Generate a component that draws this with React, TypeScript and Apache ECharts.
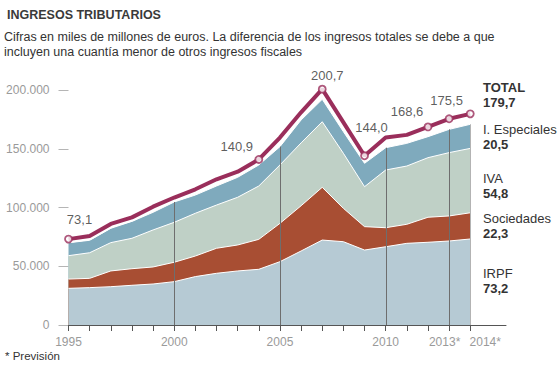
import React, { useEffect, useRef } from "react";
import * as echarts from "echarts";

// Data (miles de millones de euros)
const years = [1995, 1996, 1997, 1998, 1999, 2000, 2001, 2002, 2003, 2004, 2005, 2006, 2007, 2008, 2009, 2010, 2011, 2012, 2013, 2014];
const irpf = [31.2, 31.8, 32.6, 33.8, 34.9, 36.9, 41.2, 44.0, 46.0, 47.4, 53.9, 63.0, 72.3, 70.9, 63.8, 66.6, 69.5, 70.4, 71.5, 73.2];
const sociedades = [7.9, 7.9, 13.4, 14.1, 14.5, 16.5, 17.5, 21.3, 22.1, 25.5, 32.6, 38.5, 44.9, 28.4, 19.9, 16.2, 16.2, 21.3, 21.3, 22.3];
const iva = [19.9, 21.8, 24.1, 25.9, 31.5, 34.0, 36.4, 36.8, 40.6, 45.4, 49.7, 53.5, 55.8, 46.8, 34.0, 49.1, 49.6, 50.7, 53.9, 54.8];
const especiales = [11.0, 10.6, 12.2, 14.4, 15.0, 17.3, 15.5, 16.2, 17.0, 17.9, 15.6, 19.5, 19.1, 18.4, 19.9, 19.0, 19.3, 17.9, 19.8, 20.5];
const total = [73.1, 75.8, 86.0, 91.6, 100.7, 108.5, 115.5, 124.0, 130.5, 140.9, 159.5, 181.0, 200.7, 172.5, 144.0, 159.5, 161.8, 168.6, 175.5, 179.7];

const markerYears = [1995, 2004, 2007, 2009, 2012, 2013, 2014];
const labeledYears = [1995, 2004, 2007, 2009, 2012, 2013];
const xLabelYears = [1995, 2000, 2005, 2010, 2013, 2014];
const forecastYears = [2013, 2014];
const guideYears = [2000, 2005, 2010, 2013, 2014];
const yMin = 0;
const yMax = 200;
const yStep = 50;

const title = "INGRESOS TRIBUTARIOS";
const subtitle1 = "Cifras en miles de millones de euros. La diferencia de los ingresos totales se debe a que";
const subtitle2 = "incluyen una cuantía menor de otros ingresos fiscales";
const footnote = "* Previsión";

const FONT = "'Liberation Sans', Arial, sans-serif";
const COLORS = {
  irpf: "#b6cad4",
  sociedades: "#a84e33",
  iva: "#bfd0c6",
  especiales: "#7faabd",
  total: "#9a2e5b",
};

const fmt1 = (v: number) => v.toFixed(1).replace(".", ",");
const fmtThousands = (v: number) =>
  String(Math.round(v * 1000)).replace(/\B(?=(\d{3})+(?!\d))/g, ".");
const idx = (y: number) => years.indexOf(y);
const pairs = (arr: number[]) => years.map((y, i) => [y, arr[i]]);

// label offsets (style only)
const labelOffsets: Record<number, [number, number]> = {
  1995: [11, -4],
  2004: [-22, 3],
  2007: [5, 2],
  2009: [7, -12.5],
  2012: [-21, 0.5],
  2013: [-2.5, -2.5],
};

export default function App() {
  const ref = useRef<HTMLDivElement>(null);

  useEffect(() => {
    if (!ref.current) return;
    const chart = echarts.init(ref.current, null, { renderer: "svg" });
    const last = years.length - 1;

    const areaDefs = [
      { name: "IRPF", data: irpf, color: COLORS.irpf },
      { name: "Sociedades", data: sociedades, color: COLORS.sociedades },
      { name: "IVA", data: iva, color: COLORS.iva },
      { name: "I. Especiales", data: especiales, color: COLORS.especiales },
    ];
    // cumulative tops for stacking
    const cum: number[][] = [];
    areaDefs.forEach((s, k) => {
      cum.push(s.data.map((v, i) => (k > 0 ? cum[k - 1][i] : 0) + v));
    });
    const stackTop = cum[cum.length - 1];

    // draw top layer first, lower layers painted on top of it
    const areaSeries = areaDefs
      .map((s, k) => ({
        type: "line",
        name: s.name,
        data: pairs(cum[k]),
        symbol: "none",
        showSymbol: false,
        lineStyle: { color: "#ffffff", width: 1 },
        areaStyle: { color: s.color, opacity: 1 },
        itemStyle: { color: s.color },
        z: 2,
        silent: true,
      }))
      .reverse();

    const rightLabels = [
      { name: "TOTAL", value: fmt1(total[last]), y: 87, bold: true },
      { name: "I. Especiales", value: fmt1(especiales[last]), y: 129 },
      { name: "IVA", value: fmt1(iva[last]), y: 178.5 },
      { name: "Sociedades", value: fmt1(sociedades[last]), y: 218.5 },
      { name: "IRPF", value: fmt1(irpf[last]), y: 273.5 },
    ];

    const graphics: any[] = [
      {
        type: "text",
        left: 7,
        top: 8,
        style: { text: title, font: `bold 12.5px ${FONT}`, fill: "#3a3a3a" },
      },
      {
        type: "text",
        left: 4,
        top: 30,
        style: { text: subtitle1, font: `12.5px ${FONT}`, fill: "#333" },
      },
      {
        type: "text",
        left: 4,
        top: 45,
        style: { text: subtitle2, font: `12.5px ${FONT}`, fill: "#333" },
      },
      {
        type: "text",
        left: 5,
        top: 350,
        style: { text: footnote, font: `11.5px ${FONT}`, fill: "#333" },
      },
    ];
    rightLabels.forEach((l) => {
      graphics.push({
        type: "text",
        x: 483,
        y: l.y,
        style: {
          text: l.name,
          font: `${l.bold ? "bold " : ""}13px ${FONT}`,
          fill: "#333",
          verticalAlign: "middle",
        },
      });
      graphics.push({
        type: "text",
        x: 483,
        y: l.y + 15,
        style: {
          text: l.value,
          font: `bold 13px ${FONT}`,
          fill: "#333",
          verticalAlign: "middle",
        },
      });
    });

    const option: any = {
      animation: false,
      textStyle: { fontFamily: FONT },
      grid: { left: 68.5, right: 54, top: 90, bottom: 42, containLabel: false },
      xAxis: {
        type: "value",
        min: 1995,
        max: 2015.69,
        interval: 1,
        axisLine: { show: true, lineStyle: { color: "#555", width: 1 } },
        axisTick: {
          show: true,
          length: 6,
          lineStyle: { color: "#555" },
          customValues: years,
        },
        axisLabel: {
          color: "#9a9a9a",
          fontSize: 12,
          margin: 11,
          customValues: xLabelYears,
          formatter: (v: number) => {
            if (!forecastYears.includes(v)) return String(v);
            return v === forecastYears[0] ? `{l|${v}*}` : `{r|${v}*}`;
          },
          rich: {
            l: { color: "#9a9a9a", fontSize: 12, fontFamily: FONT, padding: [0, 9, 0, 0] },
            r: { color: "#9a9a9a", fontSize: 12, fontFamily: FONT, padding: [0, 0, 0, 30] },
          },
        },
        splitLine: { show: false },
      },
      yAxis: {
        type: "value",
        min: yMin,
        max: yMax,
        interval: yStep,
        axisLine: { show: false },
        axisTick: { show: true, length: 10, lineStyle: { color: "#b5b5b5" } },
        axisLabel: {
          color: "#9a9a9a",
          fontSize: 12,
          margin: 19,
          formatter: (v: number) => fmtThousands(v),
        },
        splitLine: { show: false },
      },
      graphic: graphics,
      series: [
        ...areaSeries,
        {
          type: "custom",
          silent: true,
          z: 3,
          clip: false,
          data: guideYears.map((y) => [y, stackTop[idx(y)]]),
          renderItem: (params: any, api: any) => {
            const x = api.value(0);
            const p0 = api.coord([x, 0]);
            const p1 = api.coord([x, api.value(1)]);
            const px = Math.round(p0[0]) + 0.5;
            return {
              type: "line",
              shape: { x1: px, y1: p0[1], x2: px, y2: p1[1] },
              style: {
                stroke: x === years[last] ? "#b3b3b3" : "#6e6e6e",
                lineWidth: 1,
              },
            };
          },
        },
        {
          type: "line",
          data: pairs(total),
          symbol: "none",
          showSymbol: false,
          lineStyle: { color: "#ffffff", width: 8 },
          z: 4,
          clip: false,
          silent: true,
        },
        {
          type: "line",
          data: pairs(total),
          symbol: "none",
          showSymbol: false,
          lineStyle: { color: COLORS.total, width: 4 },
          z: 5,
          clip: false,
          silent: true,
        },
        {
          type: "scatter",
          z: 6,
          clip: false,
          silent: true,
          symbol: "circle",
          symbolSize: 7,
          itemStyle: { color: "#ffffff", borderColor: COLORS.total, borderWidth: 1.8 },
          label: {
            show: true,
            position: "top",
            distance: 5,
            color: "#333",
            fontSize: 13,
            fontFamily: FONT,
            formatter: (p: any) => fmt1(p.value[1]),
          },
          data: markerYears.map((y) => ({
            value: [y, total[idx(y)]],
            label: labeledYears.includes(y)
              ? { show: true, offset: labelOffsets[y] || [0, 0] }
              : { show: false },
          })),
        },
      ],
    };

    chart.setOption(option);
    return () => chart.dispose();
  }, []);

  return (
    <div
      ref={ref}
      style={{ position: "absolute", left: 0, top: 0, width: 560, height: 367, background: "#fff" }}
    />
  );
}
